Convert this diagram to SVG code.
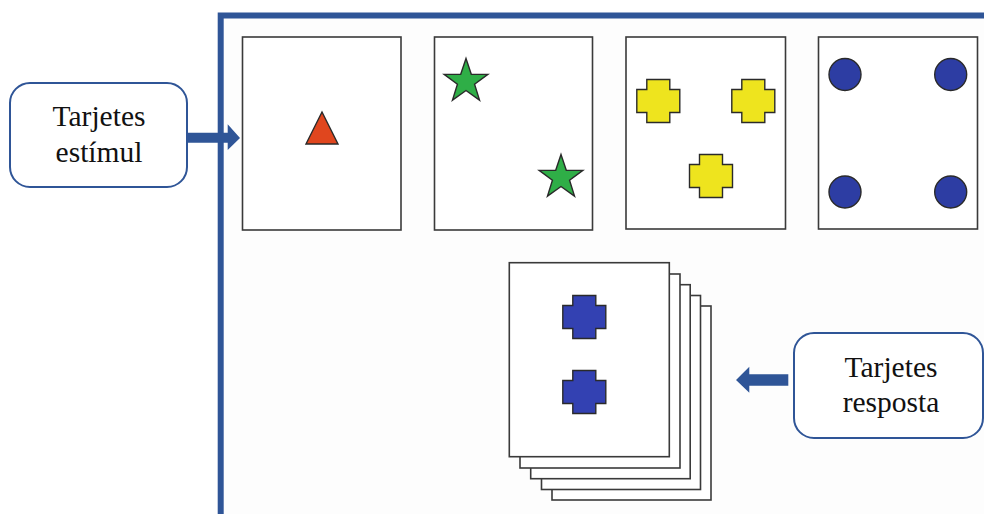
<svg xmlns="http://www.w3.org/2000/svg" width="984" height="514" viewBox="0 0 984 514">
<style>
.card{fill:#ffffff;stroke:#3a3a3a;stroke-width:1.6}
.label{fill:#ffffff;stroke:#2f5597;stroke-width:2}
.txt{font-family:"Liberation Serif","Times New Roman",serif;font-size:29.5px;fill:#111111;text-anchor:middle}
.frame{stroke:#2f5597;stroke-width:6;fill:none}
.arrow{fill:#2f5597}
.shape{stroke:#2a2a2a;stroke-width:1.4}
</style>
<defs>
<path id="star" d="M0,-23 L5.29,-7.28 L21.87,-7.11 L8.56,2.78 L13.52,18.61 L0,9 L-13.52,18.61 L-8.56,2.78 L-21.87,-7.11 L-5.29,-7.28 Z"/>
<path id="cross" d="M-11.5,-21.5 h23 v10 h10 v23 h-10 v10 h-23 v-10 h-10 v-23 h10 Z"/>
</defs>
<rect width="984" height="514" fill="#ffffff"/>
<rect x="221" y="18" width="763" height="496" fill="#fdfdfd"/>

<g id="frame">
<path class="frame" d="M220.7,514 V15.5 H984"/>
</g>

<g id="card1">
<rect class="card" x="242.5" y="37" width="158.5" height="193"/>
<polygon class="shape" points="322,112 306,144 338,144" fill="#e0461e"/>
</g>
<g id="card2">
<rect class="card" x="434.5" y="37" width="158" height="193"/>
<use href="#star" x="466" y="81.5" class="shape" fill="#2fae47"/>
<use href="#star" x="561" y="177.5" class="shape" fill="#2fae47"/>
</g>
<g id="card3">
<rect class="card" x="626" y="37" width="159.5" height="192"/>
<use href="#cross" x="658.3" y="101" class="shape" fill="#eee41e"/>
<use href="#cross" x="753.3" y="101" class="shape" fill="#eee41e"/>
<use href="#cross" x="711" y="176" class="shape" fill="#eee41e"/>
</g>
<g id="card4">
<rect class="card" x="818.5" y="37" width="159" height="192"/>
<circle class="shape" cx="845" cy="74.5" r="16" fill="#2d3da3"/>
<circle class="shape" cx="950.7" cy="74.5" r="16" fill="#2d3da3"/>
<circle class="shape" cx="845" cy="192" r="16" fill="#2d3da3"/>
<circle class="shape" cx="950.7" cy="192" r="16" fill="#2d3da3"/>
</g>

<g id="response-stack">
<rect class="card" x="552" y="306" width="159" height="194"/>
<rect class="card" x="541.5" y="295.5" width="159" height="194"/>
<rect class="card" x="530.7" y="284.7" width="159.5" height="194"/>
<rect class="card" x="520" y="274" width="160" height="194"/>
<rect class="card" x="509.3" y="262.7" width="160" height="194"/>
<use href="#cross" x="584.3" y="317" class="shape" fill="#3341b2"/>
<use href="#cross" x="584.3" y="392" class="shape" fill="#3341b2"/>
</g>

<g id="label-estimul">
<rect class="label" x="10" y="83" width="177" height="104" rx="20" ry="20"/>
<text class="txt" x="99" y="126">Tarjetes</text>
<text class="txt" x="99" y="161.5">estímul</text>
</g>

<g id="label-resposta">
<rect class="label" x="794" y="333" width="189" height="105" rx="20" ry="20"/>
<text class="txt" x="891" y="376.5">Tarjetes</text>
<text class="txt" x="891" y="411.5">resposta</text>
</g>

<g id="connectors">
<polygon class="arrow" points="187.5,132.7 227.7,132.7 227.7,124.3 240,138 227.7,150 227.7,142.7 187.5,142.7"/>
<polygon class="arrow" points="788.3,374.3 749.3,374.3 749.3,366.7 736,380 749.3,392.7 749.3,385.7 788.3,385.7"/>
</g>
</svg>
